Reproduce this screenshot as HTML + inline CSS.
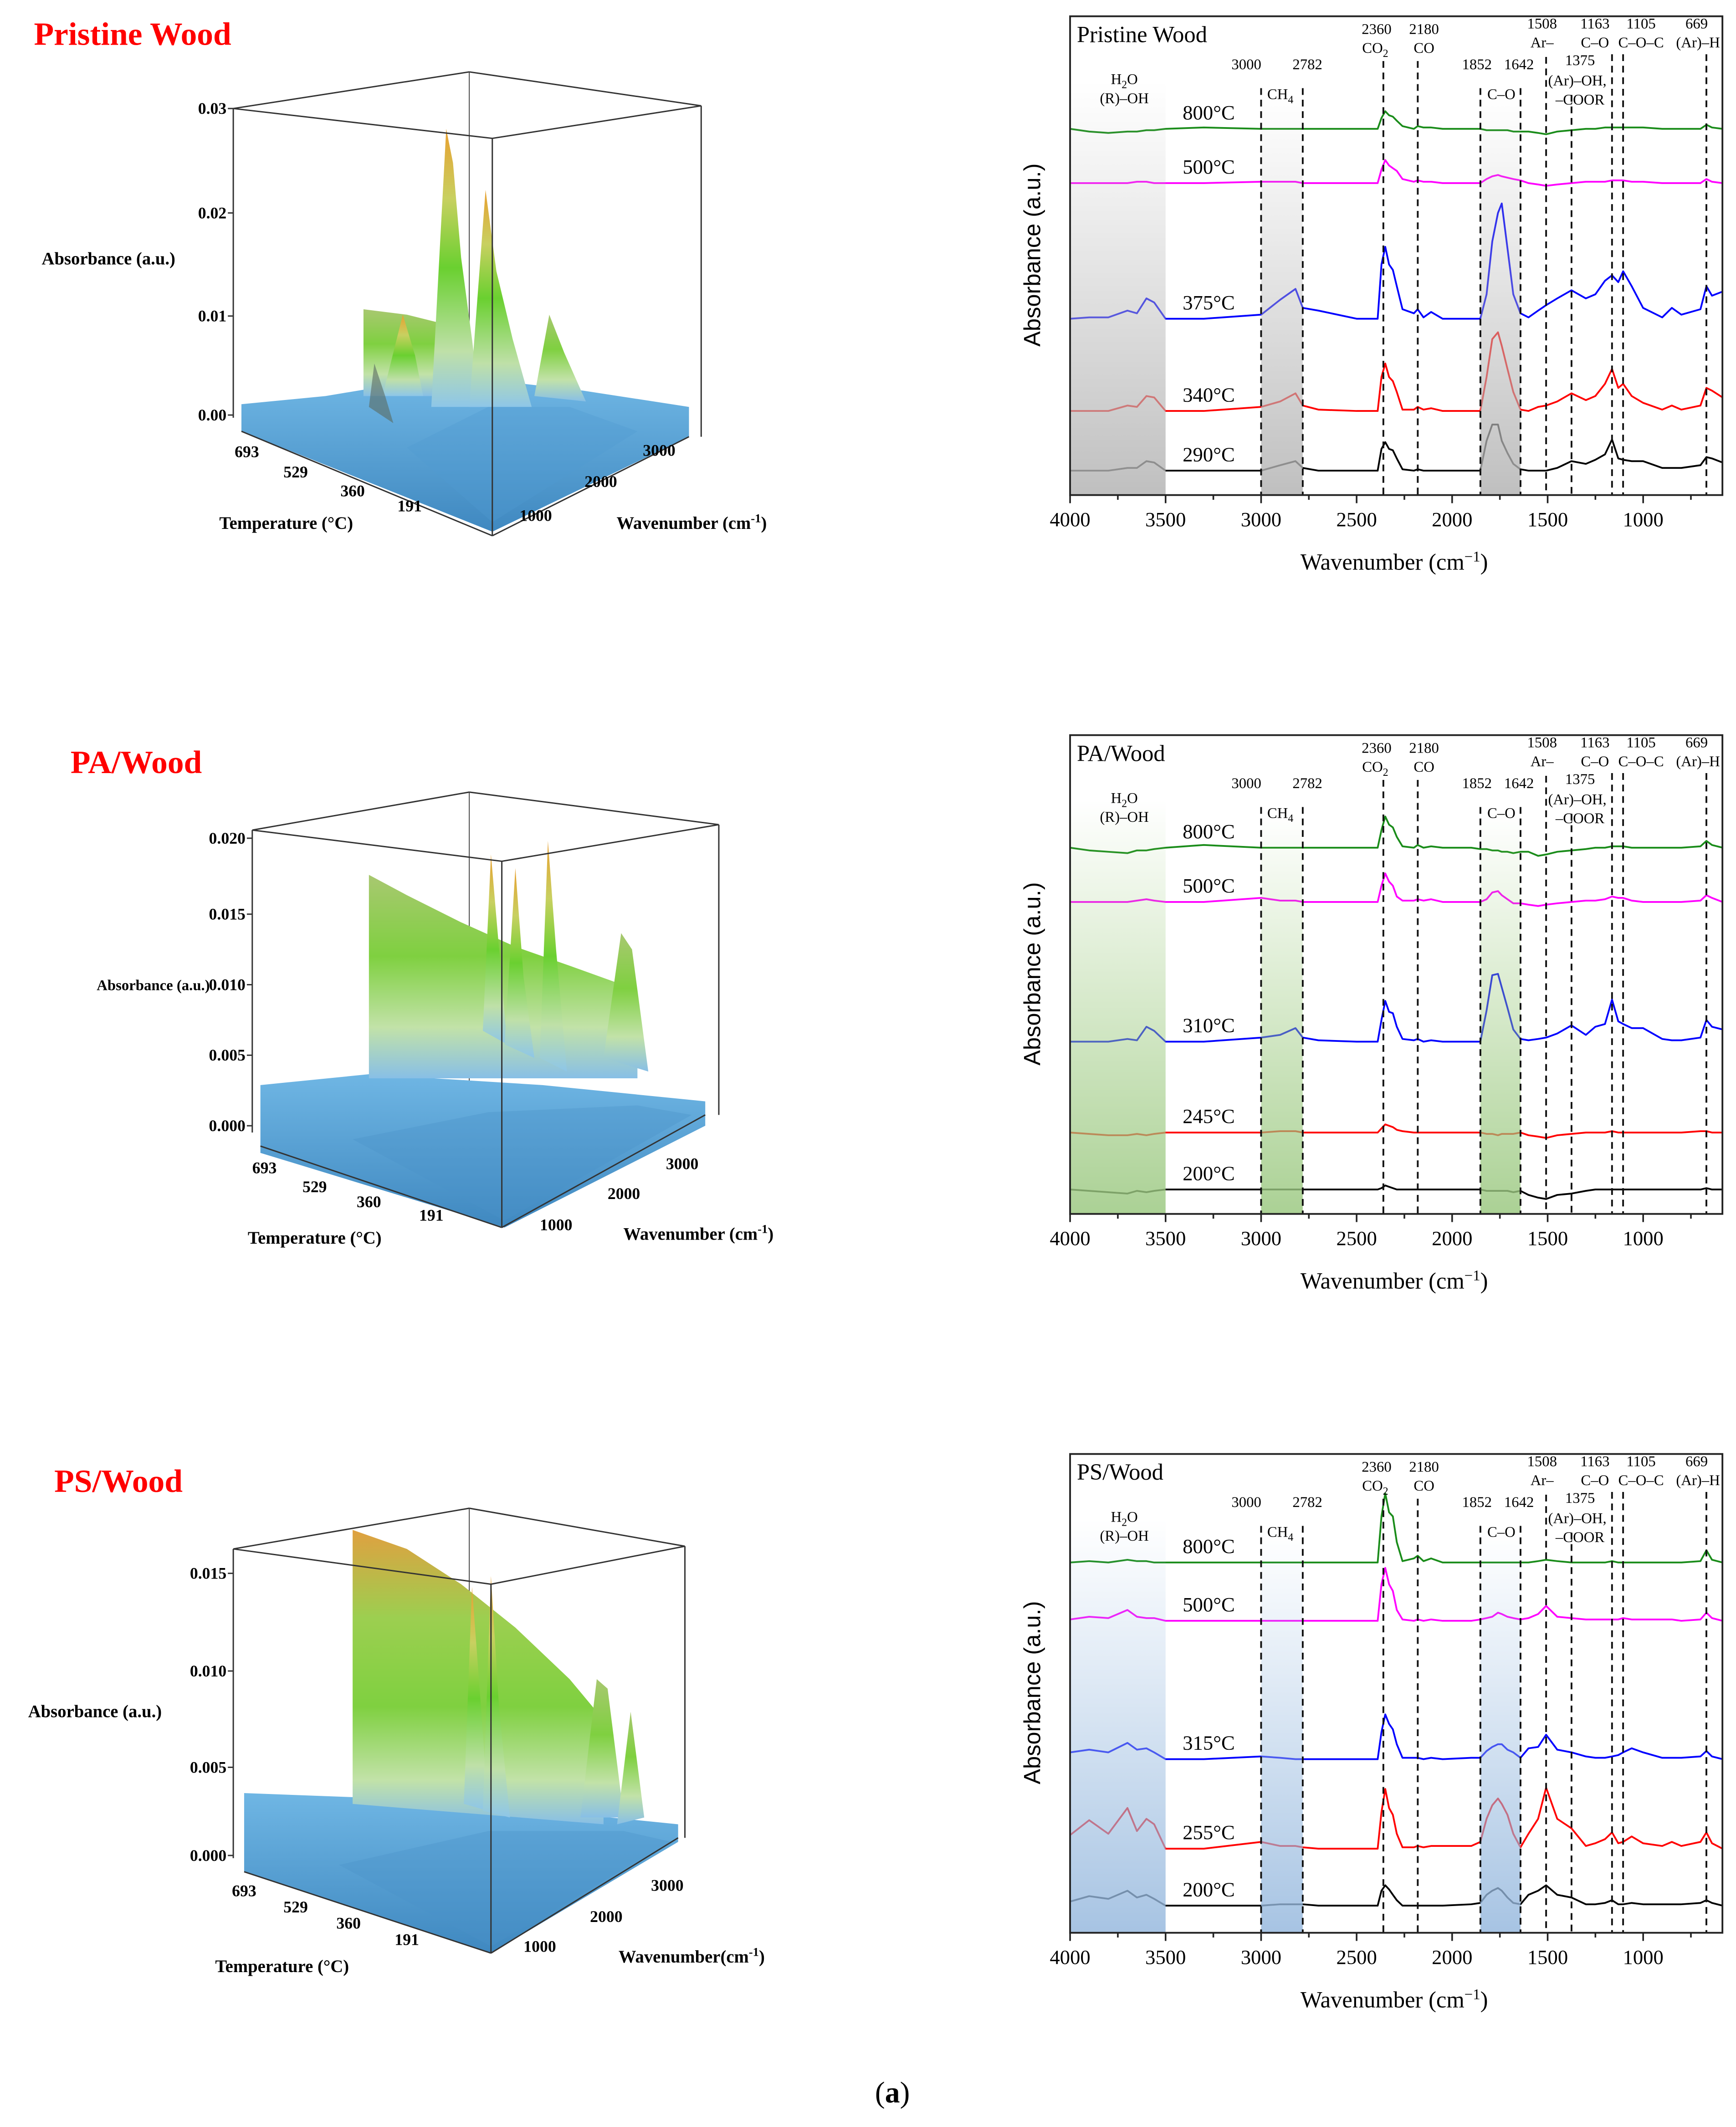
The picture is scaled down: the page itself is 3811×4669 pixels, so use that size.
<!DOCTYPE html>
<html><head><meta charset="utf-8"><style>
html,body{margin:0;padding:0;background:#fff}
svg{display:block}
.serif{font-family:"Liberation Serif",serif}
.sans{font-family:"Liberation Sans",sans-serif}
</style></head><body>
<svg id="fig" xmlns="http://www.w3.org/2000/svg" width="3811" height="4669" viewBox="0 0 1280 1568.2">
<defs>
<linearGradient id="shGray" x1="0" y1="0" x2="0" y2="1"><stop offset="0" stop-color="#bdbdbd" stop-opacity="0"/><stop offset="1" stop-color="#b4b4b4" stop-opacity="0.85"/></linearGradient>
<linearGradient id="shGreen" x1="0" y1="0" x2="0" y2="1"><stop offset="0" stop-color="#9fcc80" stop-opacity="0"/><stop offset="1" stop-color="#9cc982" stop-opacity="0.85"/></linearGradient>
<linearGradient id="shBlue" x1="0" y1="0" x2="0" y2="1"><stop offset="0" stop-color="#a0c0e2" stop-opacity="0"/><stop offset="1" stop-color="#97b9de" stop-opacity="0.85"/></linearGradient>
<linearGradient id="peakG" x1="0" y1="0" x2="0" y2="1"><stop offset="0" stop-color="#e8a030"/><stop offset="0.25" stop-color="#c8d060"/><stop offset="0.5" stop-color="#6ad030"/><stop offset="0.8" stop-color="#bfe0a8"/><stop offset="1" stop-color="#8ec6e8"/></linearGradient>
<linearGradient id="slabG" x1="0" y1="0" x2="0" y2="1"><stop offset="0" stop-color="#a8c870"/><stop offset="0.4" stop-color="#7fd040"/><stop offset="0.75" stop-color="#c2e2a8"/><stop offset="1" stop-color="#88bfe6"/></linearGradient>
<linearGradient id="slabO" x1="0" y1="0" x2="0" y2="1"><stop offset="0" stop-color="#e0a040"/><stop offset="0.3" stop-color="#9ccf50"/><stop offset="0.6" stop-color="#7fd040"/><stop offset="0.85" stop-color="#c2e2a8"/><stop offset="1" stop-color="#88bfe6"/></linearGradient>
<linearGradient id="floorB" x1="0" y1="0" x2="0" y2="1"><stop offset="0" stop-color="#6fb6e4"/><stop offset="1" stop-color="#3f88c0"/></linearGradient>
</defs>
<g id="left3d"></g>
<g id="right"></g>
<text x="658" y="1550" text-anchor="middle" font-size="22" class="serif">(<tspan font-weight="bold">a</tspan>)</text>
</svg>
<script>
// ---- data ----
const wavenumbers = [4000,3900,3800,3700,3650,3600,3560,3500,3300,3000,2900,2820,2782,2700,2500,2390,2370,2350,2330,2310,2290,2260,2200,2180,2150,2110,2050,1900,1852,1820,1790,1760,1740,1710,1680,1642,1600,1550,1508,1450,1375,1300,1250,1200,1163,1130,1105,1060,1000,900,850,800,700,669,640,584];
const xTicks = [4000,3500,3000,2500,2000,1500,1000];
const bandLines = [3000,2782,2360,2180,1852,1642,1508,1375,1163,1105,669];
const panelTitles = ["Pristine Wood","PA/Wood","PS/Wood"];
const p1Temps = ["800°C","500°C","375°C","340°C","290°C"];
const p2Temps = ["800°C","500°C","310°C","245°C","200°C"];
const p3Temps = ["800°C","500°C","315°C","255°C","200°C"];
const p1_800=[0,-2,-3,-2,-2,-1,-1,0, 1,0,0,0,0,0,0, 0,8,13,10,9,6,2, 0,2,1,1,0, 0,0,-1,-1,-1,-1,-1,-2,-2, -2,-3,-4,-2,-1,0,0,1, 1,1,1,1,1, 0,0,0,0,3,1,0];
const p1_500=[0,0,0,0,1,1,0,0, 0,1,1,1,0,0,0, 0,10,17,13,11,9,3, 1,2,1,1,0, 0,0,3,5,6,5,4,3,2, 0,-1,-2,-1,0,1,1,1, 2,2,2,1,1, 0,0,0,0,3,1,0];
const p1_375=[0,1,1,6,4,15,12,0, 0,3,14,22,8,6,0, 0,40,53,40,36,24,7, 4,7,1,5,0, 0,0,18,57,78,85,52,18,4, 1,6,10,15,21,15,18,28, 32,27,35,24,8, 1,8,3,7,24,17,20];
const p1_340=[0,0,0,4,3,11,10,0, 0,3,7,13,4,1,0, 0,25,35,25,22,14,1, 1,3,1,2,0, 0,0,25,53,58,48,31,14,1, 0,3,4,7,13,8,11,20, 31,17,20,11,6, 1,4,1,4,17,15,10];
const p1_290=[0,0,0,2,2,7,6,0, 0,0,4,7,2,0,0, 0,16,21,16,15,9,1, 0,1,0,0,0, 0,0,22,34,34,22,13,5,1, 0,0,0,2,7,5,8,12, 23,9,8,7,7, 2,2,2,4,10,9,6];
const p2_800=[0,-2,-3,-4,-2,-2,-1,0, 2,0,0,0,0,0,0, 0,13,23,17,15,8,1, 0,2,0,1,0, 0,-1,-1,-2,-2,-3,-3,-4,-3, -3,-6,-5,-3,-2,-1,0,0, 1,1,1,0,0, 0,0,0,1,5,2,0];
const p2_500=[0,0,0,0,1,2,1,0, 0,3,1,1,0,0,0, 0,12,21,15,12,4,1, 1,2,1,2,0, 0,0,2,7,8,5,2,-1,-1, -2,-3,-2,-1,0,1,1,2, 4,3,3,1,0, 0,0,0,1,5,3,0];
const p2_310=[0,0,0,2,1,11,8,0, 0,3,5,10,3,1,0, 0,16,30,22,21,11,2, 1,2,0,1,0, 0,0,23,49,50,40,25,9,2, 1,2,3,6,12,5,11,13, 31,15,13,10,10, 2,1,1,3,16,11,9];
const p2_245=[0,-1,-2,-2,-1,-2,-1,0, 0,0,1,1,0,0,0, 0,3,6,5,4,2,1, 0,0,0,0,0, 0,0,-1,-1,-2,-1,-1,-1,0, -2,-3,-4,-2,-1,0,0,0, 1,0,0,0,0, 0,0,0,1,1,0,0];
const p2_200=[0,-1,-2,-3,-1,-2,-1,0, 0,0,0,0,0,0,0, 0,1,3,2,1,0,0, 0,0,0,0,0, 0,0,-1,-1,-1,-1,-1,-2,-1, -4,-6,-7,-4,-3,-1,0,0, 0,0,0,0,0, 0,0,0,0,1,0,0];
const p3_800=[0,1,0,2,1,1,0,0, 0,0,0,0,0,0,0, 0,34,51,37,34,15,1, 3,5,1,3,0, 0,0,0,0,0,0,0,0,0, 0,1,2,1,0,0,0,0, 1,0,0,0,0, 0,0,0,1,9,2,0];
const p3_500=[1,3,2,8,3,2,2,0, 0,0,0,0,0,0,0, 0,27,39,27,22,8,1, 0,1,0,1,0, 0,1,2,3,6,5,3,2,1, 2,5,11,3,2,1,1,1, 1,1,2,1,1, 1,1,0,1,6,2,0];
const p3_315=[5,7,5,12,7,8,5,0, 0,2,1,0,0,0,0, 0,20,33,26,22,11,1, 1,1,0,1,0, 1,1,6,9,11,11,7,5,1, 8,9,18,7,5,2,1,1, 2,3,5,8,5, 1,1,1,2,6,2,0];
const p3_255=[10,21,11,30,13,22,18,0, 0,5,2,2,1,0,0, 0,27,44,30,25,11,1, 1,2,1,2,2, 2,5,22,32,37,33,25,11,1, 11,22,45,22,15,2,4,7, 12,4,5,9,4, 2,5,2,5,12,4,0];
const p3_200=[3,7,5,11,6,8,5,0, 0,0,1,1,1,0,0, 0,11,15,12,8,4,0, 0,0,0,0,0, 1,2,8,11,13,11,6,2,1, 8,11,15,8,6,1,1,2, 4,1,1,2,1, 1,1,1,2,4,2,0];

const NS="http://www.w3.org/2000/svg";
function mk(tag, attrs, parent){const e=document.createElementNS(NS,tag);for(const k in attrs)e.setAttribute(k,attrs[k]);parent.appendChild(e);return e;}
function txt(parent,x,y,s,size,cls,anchor,extra){const t=mk('text',Object.assign({x:x,y:y,'font-size':size,class:cls,'text-anchor':anchor||'start'},extra||{}),parent);t.textContent=s;return t;}

const X0=789, X1=1270, PX=0.14085;
function xs(w){return X0+(4000-w)*PX;}
const colors=["#1a8c1a","#ff00ff","#0000ff","#ff0000","#000000"];

function rightPanel(yOff, title, temps, series, bases, shade){
  const R=document.getElementById('right');
  const g=mk('g',{},R);
  
  
  const top=12+yOff, bot=365+yOff;
  series.forEach((vals,i)=>{
    const base=bases[i]+yOff;
    const pts=wavenumbers.map((w,j)=>xs(w).toFixed(1)+','+(base-vals[j]).toFixed(1)).join(' ');
    const pl=mk('polyline',{points:pts,fill:'none',stroke:colors[i],'stroke-width':1.3,'stroke-linejoin':'round'},g);
    
    
    const lb=txt(g,872,base-7,temps[i],15,'serif');
    
    
  });
  [[4000,3500,60],[3000,2782,70],[1852,1642,70]].forEach(b=>{
    const r=mk('rect',{x:xs(b[0]),y:b[2]+yOff,width:xs(b[1])-xs(b[0]),height:bot-(b[2]+yOff),fill:'url(#'+shade+')'},g);
    
    
  });
  const dtop={3000:65,2782:65,2360:45,2180:45,1852:65,1642:65,1508:42,1375:70,1163:40,1105:40,669:40};
  bandLines.forEach(w=>{
    const l=mk('line',{x1:xs(w),x2:xs(w),y1:dtop[w]+yOff,y2:bot,stroke:'#111','stroke-width':1.3,'stroke-dasharray':'5,3.5'},g);
    
    
  });
  const f=mk('rect',{x:X0,y:top,width:X1-X0,height:bot-top,fill:'none',stroke:'#222','stroke-width':1.3},g);
  
  
  for(let w=4000;w>=600;w-=250){
    const major=(w%500===0);
    mk('line',{x1:xs(w),x2:xs(w),y1:bot,y2:bot+(major?6:3.5),stroke:'#222','stroke-width':1.2},g);
  }
  xTicks.forEach(w=>{
    const t=txt(g,xs(w),bot+23,String(w),15,'serif','middle');
    
    
  });
  const xt=txt(g,1028,bot+55,'Wavenumber (cm',17,'serif','middle');
  xt.innerHTML='Wavenumber (cm<tspan dy="-6" font-size="11">−1</tspan><tspan dy="6">)</tspan>';
  
  
  const yt=txt(g,0,0,'Absorbance (a.u.)',17,'sans','middle',{transform:'translate(767,'+(188+yOff)+') rotate(-90)'});
  
  
  const tt=txt(g,794,31+yOff,title,17,'serif');
  
  
  const ann=[["2360",1015,25],["2180",1050,25],["1508",1137,21],["Ar–",1137,35],["1163",1176,21],["C–O",1176,35],["1105",1210,21],["C–O–C",1210,35],["669",1251,21],["(Ar)–H",1252,35],["3000",919,51],["2782",964,51],["1852",1089,51],["1642",1120,51],["1375",1165,48],["(Ar)–OH,",1163,63],["–COOR",1165,77],["(R)–OH",829,76],["C–O",1107,73],["CO",1050,39]];
  ann.forEach(a=>{const t=txt(g,a[1],a[2]+yOff,a[0],11,'serif','middle');});
  const c2=txt(g,1014,39+yOff,'',11,'serif','middle');c2.innerHTML='CO<tspan dy="3" font-size="8">2</tspan>';
  
  const h2=txt(g,829,62+yOff,'',11,'serif','middle');h2.innerHTML='H<tspan dy="3" font-size="8">2</tspan><tspan dy="-3">O</tspan>';
  
  const ch=txt(g,944,73+yOff,'',11,'serif','middle');ch.innerHTML='CH<tspan dy="3" font-size="8">4</tspan>';
  
}
rightPanel(0,panelTitles[0],p1Temps,[p1_800,p1_500,p1_375,p1_340,p1_290],[95,135,235,303,347],'shGray');
rightPanel(530,panelTitles[1],p2Temps,[p2_800,p2_500,p2_310,p2_245,p2_200],[95,135,238,305,347],'shGreen');
rightPanel(1060,panelTitles[2],p3Temps,[p3_800,p3_500,p3_315,p3_255,p3_200],[92,135,237,303,345],'shBlue');

// ---- 3D panels (static illustrations) ----
const L=document.getElementById('left3d');
function poly(g,pts,fill,extra){return mk('polygon',Object.assign({points:pts,fill:fill},extra||{}),g);}
function line(g,x1,y1,x2,y2,w){return mk('line',{x1:x1,y1:y1,x2:x2,y2:y2,stroke:'#333','stroke-width':w||1},g);}
function panel3d(cfg){
  const g=mk('g',{},L);
  
  
  const t=txt(g,cfg.title[0],cfg.title[1],cfg.title[2],24,'serif','start',{fill:'#ff0000','font-weight':'bold'});
  
  const b=cfg.box;
  line(g,b.bl[0],b.bl[1],b.bk[0],b.bk[1]);line(g,b.bk[0],b.bk[1],b.br[0],b.br[1]);
  line(g,b.bk[0],b.bk[1],b.bk[0],b.bkb,0.6);
  line(g,b.bl[0],b.bl[1],b.bl[0],b.fl[1]-10);line(g,b.br[0],b.br[1],b.br[0],b.fr[1]);
  cfg.shapes.forEach(s=>{const p=poly(g,s[0],s[1],{stroke:s[2]||'none','stroke-width':0.6,opacity:s[3]||1});});
  line(g,b.bl[0],b.bl[1],b.ft[0],b.ft[1]);line(g,b.ft[0],b.ft[1],b.br[0],b.br[1]);
  line(g,b.ft[0],b.ft[1],b.ft[0],b.fb[1]);
  line(g,b.fl[0],b.fl[1],b.fb[0],b.fb[1]);line(g,b.fb[0],b.fb[1],b.fr[0],b.fr[1]);
  cfg.yt.forEach(v=>{line(g,b.bl[0],v[1],b.bl[0]-4,v[1]);const tx=txt(g,b.bl[0]-5,v[1]+4,v[0],12,'serif','end',{'font-weight':'bold'});});
  cfg.tt.forEach(v=>{const tx=txt(g,v[1],v[2],v[0],12,'serif','middle',{'font-weight':'bold'});});
  cfg.wt.forEach(v=>{const tx=txt(g,v[1],v[2],v[0],12,'serif','middle',{'font-weight':'bold'});});
  const a=txt(g,cfg.abs[0],cfg.abs[1],'Absorbance (a.u.)',cfg.abs[2],'serif','middle',{'font-weight':'bold'});
  const te=txt(g,cfg.tl[0],cfg.tl[1],'Temperature (°C)',13,'serif','middle',{'font-weight':'bold'});
  const wv=txt(g,cfg.wl[0],cfg.wl[1],'',13,'serif','middle',{'font-weight':'bold'});wv.innerHTML=cfg.wl[2]+'(cm<tspan dy="-5" font-size="9">-1</tspan><tspan dy="5">)</tspan>';
  
}
panel3d({id:'pristine',title:[25,33,'Pristine Wood'],
  box:{bl:[172,80],bk:[346,53],br:[517,78],ft:[363,102],bkb:290,fl:[178,318],fb:[363,395],fr:[508,322]},
  shapes:[
    ['178,298 240,292 300,282 360,280 430,288 508,300 508,322 363,392 178,318','url(#floorB)'],
    ['268,228 300,232 332,240 332,292 268,292','url(#slabG)'],
    ['282,292 297,232 306,262 312,292','url(#peakG)'],
    ['272,300 276,268 284,292 290,312','#5a6a60',null,0.6],
    ['318,300 329,95 334,120 340,190 348,250 354,300','url(#peakG)'],
    ['346,300 358,140 366,200 378,250 392,300','url(#peakG)'],
    ['394,292 405,232 416,260 432,296','url(#slabG)'],
    ['300,330 360,300 420,300 470,318 363,385','#4f9bd0',null,0.35]],
  yt:[['0.03',80],['0.02',157],['0.01',233],['0.00',306]],
  tt:[['693',182,337],['529',218,352],['360',260,366],['191',302,377]],
  wt:[['1000',395,384],['2000',443,359],['3000',486,336]],
  abs:[80,195,13],tl:[211,390],wl:[510,390,'Wavenumber ']});
panel3d({id:'pa',title:[52,570,'PA/Wood'],
  box:{bl:[186,612],bk:[346,584],br:[530,608],ft:[370,635],bkb:800,fl:[192,845],fb:[370,905],fr:[520,822]},
  shapes:[
    ['192,800 272,792 400,800 520,812 520,830 372,905 192,850','url(#floorB)'],
    ['272,645 300,660 340,680 380,698 420,712 470,730 470,795 272,795','url(#slabG)'],
    ['356,760 362,630 368,700 374,770','url(#peakG)'],
    ['372,770 380,640 386,720 394,780','url(#peakG)'],
    ['398,780 404,620 410,700 418,790','url(#peakG)'],
    ['445,780 458,688 466,700 478,790','url(#slabG)'],
    ['260,840 360,820 470,815 510,822 372,900','#4a92c8',null,0.35]],
  yt:[['0.020',618],['0.015',674],['0.010',726],['0.005',778],['0.000',830]],
  tt:[['693',195,865],['529',232,879],['360',272,890],['191',318,900]],
  wt:[['1000',410,907],['2000',460,884],['3000',503,862]],
  abs:[113,730,11],tl:[232,917],wl:[515,914,'Wavenumber ']});
panel3d({id:'ps',title:[40,1100,'PS/Wood'],
  box:{bl:[172,1142],bk:[346,1112],br:[505,1140],ft:[362,1168],bkb:1330,fl:[180,1380],fb:[362,1440],fr:[500,1355]},
  shapes:[
    ['180,1322 260,1325 400,1335 500,1345 500,1358 362,1440 180,1380','url(#floorB)'],
    ['260,1128 300,1142 340,1168 380,1200 420,1238 445,1268 445,1345 260,1330','url(#slabO)'],
    ['342,1330 348,1170 354,1250 360,1335','url(#peakG)'],
    ['356,1335 362,1162 368,1260 376,1340','url(#peakG)'],
    ['428,1340 440,1238 448,1245 460,1340','url(#slabG)'],
    ['455,1345 465,1262 475,1340','url(#slabG)'],
    ['250,1375 360,1350 460,1350 495,1358 362,1435','#4a92c8',null,0.35]],
  yt:[['0.015',1160],['0.010',1232],['0.005',1303],['0.000',1368]],
  tt:[['693',180,1398],['529',218,1410],['360',257,1422],['191',300,1434]],
  wt:[['1000',398,1439],['2000',447,1417],['3000',492,1394]],
  abs:[70,1266,13],tl:[208,1454],wl:[510,1447,'Wavenumber']});
</script>
</body></html>
